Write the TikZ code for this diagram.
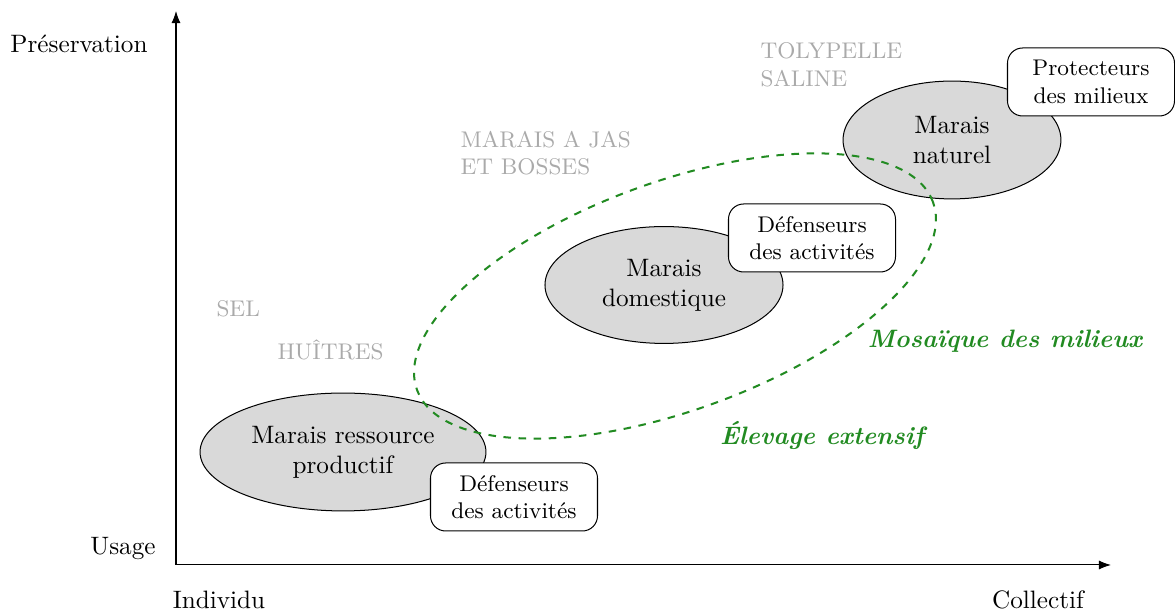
\documentclass[tikz,border=0pt]{standalone}
\usetikzlibrary{shapes.geometric,arrows.meta}
\definecolor{mygreen}{RGB}{34,139,34}
\definecolor{mygray}{RGB}{170,170,170}
\definecolor{fillgray}{RGB}{217,217,217}
\begin{document}
\begin{tikzpicture}[x=0.397pt,y=-0.397pt,
  marais/.style={ellipse,draw,fill=fillgray,align=center,inner sep=0pt},
  acteur/.style={draw,rounded corners=6pt,fill=white,align=center,font=\small,minimum width=66.3pt,minimum height=27pt,inner sep=0pt},
  usage/.style={text=mygray,font=\small,align=left,anchor=west,inner sep=0pt},
  axlabel/.style={inner sep=0pt},
  mode/.style={text=mygreen,font=\bfseries\itshape,inner sep=0pt}]
\useasboundingbox (0,0) rectangle (1175,615);
% axes
\coordinate (O) at (176,565);
\coordinate (Ytip) at (176,11);
\coordinate (Xtip) at (1111,565);
\draw[-Latex] (O) -- (Ytip);
\draw[-Latex] (O) -- (Xtip);
\node[axlabel] (pres) at (79,44) {Préservation};
\node[axlabel] (usg) at (123,549) {Usage};
\node[axlabel] (indiv) at (219,600) {Individu};
\node[axlabel] (coll) at (1038,600) {Collectif};
% gray usage labels
\node[usage] (tol) at (760,65) {TOLYPELLE\\SALINE};
\node[usage] (jas) at (460,153) {MARAIS A JAS\\ET BOSSES};
\node[usage] (sel) at (216,309) {SEL};
\node[usage] (hui) at (277,350) {HUÎTRES};
% marais ellipses
\node[marais,minimum width=113.5pt,minimum height=46.8pt] (res) at (343,452) {Marais ressource\\productif};
\node[marais,minimum width=94.5pt,minimum height=46.4pt] (dom) at (664,285) {Marais\\domestique};
\node[marais,minimum width=86.5pt,minimum height=46.8pt] (nat) at (952,140) {Marais\\naturel};
% mosaic ellipse
\node[ellipse,draw=mygreen,dashed,thick,minimum width=218pt,minimum height=90.7pt,inner sep=0pt,rotate=20] (mos) at (675,296) {};
% actor boxes
\node[acteur] (def1) at (514,497) {Défenseurs\\des activités};
\node[acteur] (def2) at (812,238) {Défenseurs\\des activités};
\node[acteur] (prot) at (1091,82) {Protecteurs\\des milieux};
% green labels
\node[mode] (mosl) at (1005,341) {Mosaïque des milieux};
\node[mode] (elev) at (822,435) {Élevage extensif};
\end{tikzpicture}
\end{document}
